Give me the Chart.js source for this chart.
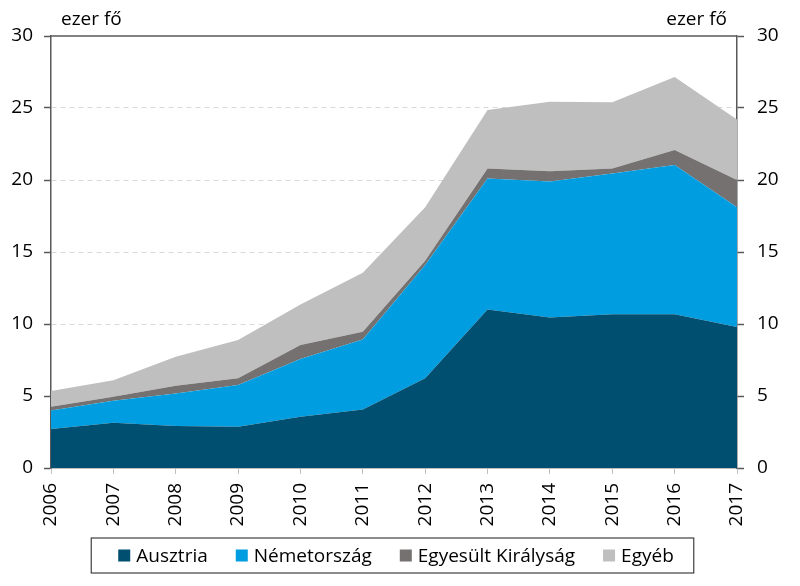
<!DOCTYPE html>
<html><head><meta charset="utf-8">
<script src="https://cdn.jsdelivr.net/npm/chart.js@4"></script>
<style>html,body{margin:0;padding:0;background:#fff}canvas{display:block}</style>
</head><body>
<canvas id="c" width="800" height="586" style="width:800px;height:586px"></canvas>
<script>
const years = ['2006','2007','2008','2009','2010','2011','2012','2013','2014','2015','2016','2017'];
const ausztria = [2.7, 3.15, 2.92, 2.87, 3.56, 4.07, 6.23, 11.0, 10.45, 10.67, 10.67, 9.8];
const nemetorszag = [1.3, 1.52, 2.26, 2.89, 4.01, 4.86, 7.87, 9.1, 9.45, 9.78, 10.37, 8.3];
const egyesultKiralysag = [0.26, 0.28, 0.54, 0.47, 0.97, 0.54, 0.3, 0.7, 0.7, 0.35, 1.04, 1.9];
const egyeb = [1.09, 1.15, 2.01, 2.66, 2.82, 4.09, 3.7, 4.06, 4.84, 4.6, 5.07, 4.2];
const yTicks = [0, 5, 10, 15, 20, 25, 30];
const unitLabel = 'ezer fő';

const FONT = '"Open Sans", "Noto Sans", sans-serif';
const axisColor = '#595959';

function ds(label, data, color, fill) {
  return { label, data, backgroundColor: color, borderColor: color, borderWidth: 0,
    pointRadius: 0, pointHoverRadius: 0, fill, tension: 0 };
}

const extras = {
  id: 'extras',
  afterDraw(chart) {
    const ctx = chart.ctx;
    const a = chart.chartArea;
    ctx.save();
    // top border line
    ctx.strokeStyle = axisColor; ctx.lineWidth = 1.5;
    ctx.beginPath(); ctx.moveTo(a.left, a.top); ctx.lineTo(a.right, a.top); ctx.stroke();
    // unit labels
    ctx.fillStyle = '#000';
    ctx.font = '19px ' + FONT;
    ctx.textBaseline = 'alphabetic';
    ctx.textAlign = 'left';
    ctx.fillText(unitLabel, 61, 25);
    ctx.textAlign = 'right';
    ctx.fillText(unitLabel, 727, 25);
    // legend (boxed)
    const items = chart.data.datasets.map(d => ({ label: d.label, color: d.backgroundColor }));
    ctx.font = '19px ' + FONT;
    const box = 12, gap = 6, spacing = 28, padL = 27, padR = 20;
    const widths = items.map(it => ctx.measureText(it.label).width);
    let total = widths.reduce((s, w) => s + box + gap + w, 0) + spacing * (items.length - 1);
    const frameW = total + padL + padR;
    const cx = 392.5, cy = 555.5;
    const fl = cx - frameW / 2;
    ctx.strokeStyle = '#404040'; ctx.lineWidth = 1.2;
    ctx.strokeRect(fl, cy - 17.5, frameW, 35);
    let x = fl + padL;
    ctx.textAlign = 'left'; ctx.textBaseline = 'middle';
    items.forEach((it, i) => {
      ctx.fillStyle = it.color;
      ctx.fillRect(x, cy - 6, box, box);
      ctx.fillStyle = '#000';
      ctx.fillText(it.label, x + box + gap, cy + 1);
      x += box + gap + widths[i] + spacing;
    });
    ctx.restore();
  }
};

new Chart(document.getElementById('c'), {
  type: 'line',
  data: {
    labels: years,
    datasets: [
      ds('Ausztria', ausztria, 'rgb(0,79,113)', 'origin'),
      ds('Németország', nemetorszag, 'rgb(0,158,224)', '-1'),
      ds('Egyesült Királyság', egyesultKiralysag, 'rgb(118,113,113)', '-1'),
      ds('Egyéb', egyeb, 'rgb(191,191,191)', '-1')
    ]
  },
  options: {
    responsive: false,
    animation: false,
    layout: { padding: { top: 36, left: 0, right: 0, bottom: 52 } },
    plugins: {
      legend: { display: false },
      tooltip: { enabled: false },
      title: { display: false }
    },
    scales: {
      x: {
        offset: false,
        grid: { display: true, drawOnChartArea: false, drawTicks: true, tickLength: 6, tickColor: '#bfbfbf', color: '#bfbfbf' },
        border: { display: true, color: '#bfbfbf', width: 1 },
        ticks: { color: '#000', font: { family: FONT, size: 19 }, minRotation: 90, maxRotation: 90, padding: 9, autoSkip: false },
        afterFit(s) { s.height = 66; }
      },
      y: {
        position: 'left',
        stacked: true,
        min: 0, max: 30,
        afterBuildTicks(s) { s.ticks = yTicks.map(v => ({ value: v })); },
        grid: {
          drawTicks: true, tickLength: 7, tickColor: axisColor, tickWidth: 1.5,
          color: c => (c.tick && (c.tick.value === 30 || c.tick.value === 0)) ? 'rgba(0,0,0,0)' : '#d9d9d9',
          lineWidth: 1
        },
        border: { display: true, color: axisColor, width: 1.5, dash: c => (c.tick ? [5, 4] : []) },
        ticks: { color: '#000', font: { family: FONT, size: 19 }, padding: 11 },
        afterFit(s) { s.width = 51; }
      },
      y2: {
        position: 'right',
        min: 0, max: 30,
        afterBuildTicks(s) { s.ticks = yTicks.map(v => ({ value: v })); },
        grid: { drawOnChartArea: false, drawTicks: true, tickLength: 7, tickColor: axisColor, tickWidth: 1.5 },
        border: { display: true, color: axisColor, width: 1.5 },
        ticks: { color: '#000', font: { family: FONT, size: 19 }, padding: 13 },
        afterFit(s) { s.width = 63; }
      }
    }
  },
  plugins: [extras]
});
</script>
</body></html>
